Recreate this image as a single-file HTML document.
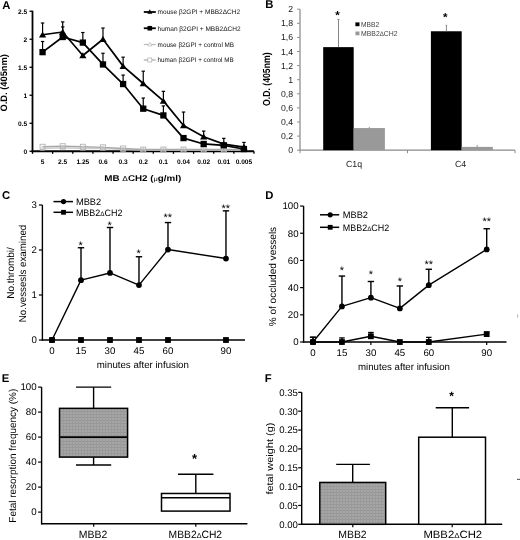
<!DOCTYPE html>
<html><head><meta charset="utf-8"><style>
html,body{margin:0;padding:0;background:#fff;width:520px;height:540px;overflow:hidden}
svg{display:block;font-family:"Liberation Sans",sans-serif;text-rendering:geometricPrecision;filter:grayscale(1)}
</style></head><body>
<svg width="520" height="540" viewBox="0 0 520 540">
<defs><pattern id="hatch" width="3" height="3" patternUnits="userSpaceOnUse"><rect width="3" height="3" fill="#a6a6a6"/><rect width="3" height="1" fill="#979797"/><rect width="1" height="3" fill="#9a9a9a"/></pattern></defs>
<rect width="520" height="540" fill="#fff"/>
<text transform="translate(6.40 4.60)" y="3.96" font-size="11.3" text-anchor="middle" font-weight="bold">A</text>
<line x1="32.50" y1="10.75" x2="32.50" y2="152.15" stroke="#000" stroke-width="1.8" />
<line x1="31.60" y1="151.25" x2="254.00" y2="151.25" stroke="#000" stroke-width="1.8" />
<line x1="29.50" y1="151.25" x2="32.50" y2="151.25" stroke="#000" stroke-width="1.3" />
<text transform="translate(27.20 151.25)" y="2.31" font-size="6.6" text-anchor="end" font-weight="bold">0</text>
<line x1="29.50" y1="123.25" x2="32.50" y2="123.25" stroke="#000" stroke-width="1.3" />
<text transform="translate(27.20 123.25)" y="2.31" font-size="6.6" text-anchor="end" font-weight="bold">0.5</text>
<line x1="29.50" y1="95.25" x2="32.50" y2="95.25" stroke="#000" stroke-width="1.3" />
<text transform="translate(27.20 95.25)" y="2.31" font-size="6.6" text-anchor="end" font-weight="bold">1</text>
<line x1="29.50" y1="67.25" x2="32.50" y2="67.25" stroke="#000" stroke-width="1.3" />
<text transform="translate(27.20 67.25)" y="2.31" font-size="6.6" text-anchor="end" font-weight="bold">1.5</text>
<line x1="29.50" y1="39.25" x2="32.50" y2="39.25" stroke="#000" stroke-width="1.3" />
<text transform="translate(27.20 39.25)" y="2.31" font-size="6.6" text-anchor="end" font-weight="bold">2</text>
<line x1="29.50" y1="11.25" x2="32.50" y2="11.25" stroke="#000" stroke-width="1.3" />
<text transform="translate(27.20 11.25)" y="2.31" font-size="6.6" text-anchor="end" font-weight="bold">2.5</text>
<line x1="32.50" y1="151.25" x2="32.50" y2="153.85" stroke="#000" stroke-width="1.3" />
<line x1="52.64" y1="151.25" x2="52.64" y2="153.85" stroke="#000" stroke-width="1.3" />
<line x1="72.77" y1="151.25" x2="72.77" y2="153.85" stroke="#000" stroke-width="1.3" />
<line x1="92.91" y1="151.25" x2="92.91" y2="153.85" stroke="#000" stroke-width="1.3" />
<line x1="113.05" y1="151.25" x2="113.05" y2="153.85" stroke="#000" stroke-width="1.3" />
<line x1="133.18" y1="151.25" x2="133.18" y2="153.85" stroke="#000" stroke-width="1.3" />
<line x1="153.32" y1="151.25" x2="153.32" y2="153.85" stroke="#000" stroke-width="1.3" />
<line x1="173.45" y1="151.25" x2="173.45" y2="153.85" stroke="#000" stroke-width="1.3" />
<line x1="193.59" y1="151.25" x2="193.59" y2="153.85" stroke="#000" stroke-width="1.3" />
<line x1="213.73" y1="151.25" x2="213.73" y2="153.85" stroke="#000" stroke-width="1.3" />
<line x1="233.86" y1="151.25" x2="233.86" y2="153.85" stroke="#000" stroke-width="1.3" />
<line x1="254.00" y1="151.25" x2="254.00" y2="153.85" stroke="#000" stroke-width="1.3" />
<text transform="translate(42.57 162.00)" y="2.31" font-size="6.6" text-anchor="middle" font-weight="bold">5</text>
<text transform="translate(62.70 162.00)" y="2.31" font-size="6.6" text-anchor="middle" font-weight="bold">2.5</text>
<text transform="translate(82.84 162.00)" y="2.31" font-size="6.6" text-anchor="middle" font-weight="bold">1.25</text>
<text transform="translate(102.98 162.00)" y="2.31" font-size="6.6" text-anchor="middle" font-weight="bold">0.6</text>
<text transform="translate(123.11 162.00)" y="2.31" font-size="6.6" text-anchor="middle" font-weight="bold">0.3</text>
<text transform="translate(143.25 162.00)" y="2.31" font-size="6.6" text-anchor="middle" font-weight="bold">0.2</text>
<text transform="translate(163.39 162.00)" y="2.31" font-size="6.6" text-anchor="middle" font-weight="bold">0.1</text>
<text transform="translate(183.52 162.00)" y="2.31" font-size="6.6" text-anchor="middle" font-weight="bold">0.04</text>
<text transform="translate(203.66 162.00)" y="2.31" font-size="6.6" text-anchor="middle" font-weight="bold">0.02</text>
<text transform="translate(223.80 162.00)" y="2.31" font-size="6.6" text-anchor="middle" font-weight="bold">0.01</text>
<text transform="translate(243.93 162.00)" y="2.31" font-size="6.6" text-anchor="middle" font-weight="bold">0.005</text>
<text transform="translate(142.80 177.60)" y="2.94" font-size="8.4" text-anchor="middle" font-weight="bold" textLength="77" lengthAdjust="spacingAndGlyphs">MB <tspan font-size="85%" font-weight="normal">&#916;</tspan>CH2 (<tspan font-size="75%" font-weight="normal">&#956;</tspan>g/ml)</text>
<text transform="translate(4.10 82.80) rotate(-90)" y="3.29" font-size="9.4" text-anchor="middle" font-weight="bold" textLength="57.5" lengthAdjust="spacingAndGlyphs">O.D. (405nm)</text>
<polyline points="42.57,148.45 62.70,147.89 82.84,148.45 102.98,148.45 123.11,149.57 143.25,150.13 163.39,150.13 183.52,150.13 203.66,150.13 223.80,150.13 243.93,150.13" fill="none" stroke="#cfcfcf" stroke-width="1.4" stroke-linejoin="round"/>
<polyline points="42.57,146.77 62.70,146.21 82.84,146.77 102.98,147.33 123.11,148.45 143.25,149.57 163.39,149.57 183.52,149.57 203.66,149.57 223.80,149.57 243.93,149.57" fill="none" stroke="#a8a8a8" stroke-width="1.4" stroke-linejoin="round"/>
<polygon points="42.57,145.86 44.97,150.18 40.17,150.18" fill="none" stroke="#c8c8c8" stroke-width="0.8"/>
<polygon points="62.70,145.30 65.10,149.62 60.30,149.62" fill="none" stroke="#c8c8c8" stroke-width="0.8"/>
<polygon points="82.84,145.86 85.24,150.18 80.44,150.18" fill="none" stroke="#c8c8c8" stroke-width="0.8"/>
<polygon points="102.98,145.86 105.38,150.18 100.58,150.18" fill="none" stroke="#c8c8c8" stroke-width="0.8"/>
<polygon points="123.11,146.98 125.51,151.30 120.71,151.30" fill="none" stroke="#c8c8c8" stroke-width="0.8"/>
<polygon points="143.25,147.54 145.65,151.86 140.85,151.86" fill="none" stroke="#c8c8c8" stroke-width="0.8"/>
<polygon points="163.39,147.54 165.79,151.86 160.99,151.86" fill="none" stroke="#c8c8c8" stroke-width="0.8"/>
<polygon points="183.52,147.54 185.92,151.86 181.12,151.86" fill="none" stroke="#c8c8c8" stroke-width="0.8"/>
<polygon points="203.66,147.54 206.06,151.86 201.26,151.86" fill="none" stroke="#c8c8c8" stroke-width="0.8"/>
<polygon points="223.80,147.54 226.20,151.86 221.40,151.86" fill="none" stroke="#c8c8c8" stroke-width="0.8"/>
<polygon points="243.93,147.54 246.33,151.86 241.53,151.86" fill="none" stroke="#c8c8c8" stroke-width="0.8"/>
<rect x="40.07" y="144.27" width="5.00" height="5.00" fill="none" stroke="#b4b4b4" stroke-width="0.9"/>
<rect x="60.20" y="143.71" width="5.00" height="5.00" fill="none" stroke="#b4b4b4" stroke-width="0.9"/>
<rect x="80.34" y="144.27" width="5.00" height="5.00" fill="none" stroke="#b4b4b4" stroke-width="0.9"/>
<rect x="100.48" y="144.83" width="5.00" height="5.00" fill="none" stroke="#b4b4b4" stroke-width="0.9"/>
<rect x="120.61" y="145.95" width="5.00" height="5.00" fill="none" stroke="#b4b4b4" stroke-width="0.9"/>
<rect x="140.75" y="147.07" width="5.00" height="5.00" fill="none" stroke="#b4b4b4" stroke-width="0.9"/>
<rect x="160.89" y="147.07" width="5.00" height="5.00" fill="none" stroke="#b4b4b4" stroke-width="0.9"/>
<rect x="181.02" y="147.07" width="5.00" height="5.00" fill="none" stroke="#b4b4b4" stroke-width="0.9"/>
<rect x="201.16" y="147.07" width="5.00" height="5.00" fill="none" stroke="#b4b4b4" stroke-width="0.9"/>
<rect x="221.30" y="147.07" width="5.00" height="5.00" fill="none" stroke="#b4b4b4" stroke-width="0.9"/>
<rect x="241.43" y="147.07" width="5.00" height="5.00" fill="none" stroke="#b4b4b4" stroke-width="0.9"/>
<line x1="42.57" y1="34.77" x2="42.57" y2="23.01" stroke="#000" stroke-width="1.2" />
<line x1="40.87" y1="23.01" x2="44.27" y2="23.01" stroke="#000" stroke-width="1.2" />
<line x1="42.57" y1="52.13" x2="42.57" y2="41.49" stroke="#000" stroke-width="1.2" />
<line x1="40.87" y1="41.49" x2="44.27" y2="41.49" stroke="#000" stroke-width="1.2" />
<line x1="62.70" y1="31.97" x2="62.70" y2="21.89" stroke="#000" stroke-width="1.2" />
<line x1="61.00" y1="21.89" x2="64.40" y2="21.89" stroke="#000" stroke-width="1.2" />
<line x1="62.70" y1="37.01" x2="62.70" y2="26.93" stroke="#000" stroke-width="1.2" />
<line x1="61.00" y1="26.93" x2="64.40" y2="26.93" stroke="#000" stroke-width="1.2" />
<line x1="82.84" y1="42.61" x2="82.84" y2="32.53" stroke="#000" stroke-width="1.2" />
<line x1="81.14" y1="32.53" x2="84.54" y2="32.53" stroke="#000" stroke-width="1.2" />
<line x1="102.98" y1="39.25" x2="102.98" y2="28.05" stroke="#000" stroke-width="1.2" />
<line x1="101.28" y1="28.05" x2="104.68" y2="28.05" stroke="#000" stroke-width="1.2" />
<line x1="102.98" y1="64.45" x2="102.98" y2="53.25" stroke="#000" stroke-width="1.2" />
<line x1="101.28" y1="53.25" x2="104.68" y2="53.25" stroke="#000" stroke-width="1.2" />
<line x1="123.11" y1="66.13" x2="123.11" y2="57.17" stroke="#000" stroke-width="1.2" />
<line x1="121.41" y1="57.17" x2="124.81" y2="57.17" stroke="#000" stroke-width="1.2" />
<line x1="123.11" y1="84.05" x2="123.11" y2="75.09" stroke="#000" stroke-width="1.2" />
<line x1="121.41" y1="75.09" x2="124.81" y2="75.09" stroke="#000" stroke-width="1.2" />
<line x1="143.25" y1="83.49" x2="143.25" y2="71.17" stroke="#000" stroke-width="1.2" />
<line x1="141.55" y1="71.17" x2="144.95" y2="71.17" stroke="#000" stroke-width="1.2" />
<line x1="143.25" y1="108.69" x2="143.25" y2="98.05" stroke="#000" stroke-width="1.2" />
<line x1="141.55" y1="98.05" x2="144.95" y2="98.05" stroke="#000" stroke-width="1.2" />
<line x1="163.39" y1="100.85" x2="163.39" y2="91.33" stroke="#000" stroke-width="1.2" />
<line x1="161.69" y1="91.33" x2="165.09" y2="91.33" stroke="#000" stroke-width="1.2" />
<line x1="163.39" y1="115.41" x2="163.39" y2="105.89" stroke="#000" stroke-width="1.2" />
<line x1="161.69" y1="105.89" x2="165.09" y2="105.89" stroke="#000" stroke-width="1.2" />
<line x1="183.52" y1="125.49" x2="183.52" y2="112.05" stroke="#000" stroke-width="1.2" />
<line x1="181.82" y1="112.05" x2="185.22" y2="112.05" stroke="#000" stroke-width="1.2" />
<line x1="203.66" y1="136.69" x2="203.66" y2="131.09" stroke="#000" stroke-width="1.2" />
<line x1="201.96" y1="131.09" x2="205.36" y2="131.09" stroke="#000" stroke-width="1.2" />
<line x1="223.80" y1="144.08" x2="223.80" y2="138.37" stroke="#000" stroke-width="1.2" />
<line x1="222.10" y1="138.37" x2="225.50" y2="138.37" stroke="#000" stroke-width="1.2" />
<line x1="243.93" y1="147.05" x2="243.93" y2="142.40" stroke="#000" stroke-width="1.2" />
<line x1="242.23" y1="142.40" x2="245.63" y2="142.40" stroke="#000" stroke-width="1.2" />
<polyline points="42.57,34.77 62.70,31.97 82.84,55.49 102.98,39.25 123.11,66.13 143.25,83.49 163.39,100.85 183.52,125.49 203.66,136.69 223.80,144.08 243.93,147.05" fill="none" stroke="#000" stroke-width="1.7" stroke-linejoin="round"/>
<polyline points="42.57,52.13 62.70,37.01 82.84,42.61 102.98,64.45 123.11,84.05 143.25,108.69 163.39,115.41 183.52,138.09 203.66,143.97 223.80,145.31 243.93,149.01" fill="none" stroke="#000" stroke-width="1.7" stroke-linejoin="round"/>
<polygon points="42.57,31.57 46.17,37.57 38.97,37.57" fill="#000" stroke="none" stroke-width="1"/>
<polygon points="62.70,28.77 66.30,34.77 59.10,34.77" fill="#000" stroke="none" stroke-width="1"/>
<polygon points="82.84,52.29 86.44,58.29 79.24,58.29" fill="#000" stroke="none" stroke-width="1"/>
<polygon points="102.98,36.05 106.58,42.05 99.38,42.05" fill="#000" stroke="none" stroke-width="1"/>
<polygon points="123.11,62.93 126.71,68.93 119.51,68.93" fill="#000" stroke="none" stroke-width="1"/>
<polygon points="143.25,80.29 146.85,86.29 139.65,86.29" fill="#000" stroke="none" stroke-width="1"/>
<polygon points="163.39,97.65 166.99,103.65 159.79,103.65" fill="#000" stroke="none" stroke-width="1"/>
<polygon points="183.52,122.29 187.12,128.29 179.92,128.29" fill="#000" stroke="none" stroke-width="1"/>
<polygon points="203.66,133.49 207.26,139.49 200.06,139.49" fill="#000" stroke="none" stroke-width="1"/>
<polygon points="223.80,140.88 227.40,146.88 220.20,146.88" fill="#000" stroke="none" stroke-width="1"/>
<polygon points="243.93,143.85 247.53,149.85 240.33,149.85" fill="#000" stroke="none" stroke-width="1"/>
<rect x="39.42" y="48.98" width="6.30" height="6.30" fill="#000" stroke="none" stroke-width="1"/>
<rect x="59.55" y="33.86" width="6.30" height="6.30" fill="#000" stroke="none" stroke-width="1"/>
<rect x="79.69" y="39.46" width="6.30" height="6.30" fill="#000" stroke="none" stroke-width="1"/>
<rect x="99.83" y="61.30" width="6.30" height="6.30" fill="#000" stroke="none" stroke-width="1"/>
<rect x="119.96" y="80.90" width="6.30" height="6.30" fill="#000" stroke="none" stroke-width="1"/>
<rect x="140.10" y="105.54" width="6.30" height="6.30" fill="#000" stroke="none" stroke-width="1"/>
<rect x="160.24" y="112.26" width="6.30" height="6.30" fill="#000" stroke="none" stroke-width="1"/>
<rect x="180.37" y="134.94" width="6.30" height="6.30" fill="#000" stroke="none" stroke-width="1"/>
<rect x="200.51" y="140.82" width="6.30" height="6.30" fill="#000" stroke="none" stroke-width="1"/>
<rect x="220.65" y="142.16" width="6.30" height="6.30" fill="#000" stroke="none" stroke-width="1"/>
<rect x="240.78" y="145.86" width="6.30" height="6.30" fill="#000" stroke="none" stroke-width="1"/>
<line x1="143.80" y1="12.00" x2="155.80" y2="12.00" stroke="#000" stroke-width="1.8" />
<polygon points="149.80,9.36 152.30,13.76 147.30,13.76" fill="#000" stroke="none" stroke-width="1"/>
<text transform="translate(157.60 12.00)" y="2.31" font-size="6.6" text-anchor="start" fill="#111" textLength="82.5" lengthAdjust="spacingAndGlyphs">mouse &#946;2GPI + MBB2&#916;CH2</text>
<line x1="143.80" y1="28.25" x2="155.80" y2="28.25" stroke="#000" stroke-width="1.8" />
<rect x="147.50" y="25.95" width="4.60" height="4.60" fill="#000" stroke="none" stroke-width="1"/>
<text transform="translate(157.60 28.25)" y="2.31" font-size="6.6" text-anchor="start" fill="#111" textLength="83" lengthAdjust="spacingAndGlyphs">human &#946;2GPI + MBB2&#916;CH2</text>
<line x1="143.80" y1="44.50" x2="155.80" y2="44.50" stroke="#bbb" stroke-width="1.2" />
<polygon points="149.80,42.34 151.80,45.94 147.80,45.94" fill="#fff" stroke="#bbb" stroke-width="0.7"/>
<text transform="translate(157.60 44.50)" y="2.31" font-size="6.6" text-anchor="start" fill="#111" textLength="76.5" lengthAdjust="spacingAndGlyphs">mouse &#946;2GPI + control MB</text>
<line x1="143.80" y1="60.00" x2="155.80" y2="60.00" stroke="#aaa" stroke-width="1.2" />
<rect x="147.80" y="58.00" width="4.00" height="4.00" fill="#fff" stroke="#aaa" stroke-width="0.7"/>
<text transform="translate(157.60 60.00)" y="2.31" font-size="6.6" text-anchor="start" fill="#111" textLength="76" lengthAdjust="spacingAndGlyphs">human &#946;2GPI + control MB</text>
<text transform="translate(269.30 4.30)" y="3.96" font-size="11.3" text-anchor="middle" font-weight="bold">B</text>
<line x1="300.00" y1="9.20" x2="300.00" y2="150.20" stroke="#909090" stroke-width="1.3" />
<line x1="300.00" y1="150.20" x2="515.00" y2="150.20" stroke="#8a8a8a" stroke-width="1.2" />
<line x1="297.00" y1="150.20" x2="300.00" y2="150.20" stroke="#909090" stroke-width="1.0" />
<text transform="translate(293.00 150.20)" y="3.04" font-size="8.7" text-anchor="end" fill="#1a1a1a">0</text>
<line x1="297.00" y1="136.10" x2="300.00" y2="136.10" stroke="#909090" stroke-width="1.0" />
<text transform="translate(293.00 136.10)" y="3.04" font-size="8.7" text-anchor="end" fill="#1a1a1a">0,2</text>
<line x1="297.00" y1="122.00" x2="300.00" y2="122.00" stroke="#909090" stroke-width="1.0" />
<text transform="translate(293.00 122.00)" y="3.04" font-size="8.7" text-anchor="end" fill="#1a1a1a">0,4</text>
<line x1="297.00" y1="107.90" x2="300.00" y2="107.90" stroke="#909090" stroke-width="1.0" />
<text transform="translate(293.00 107.90)" y="3.04" font-size="8.7" text-anchor="end" fill="#1a1a1a">0,6</text>
<line x1="297.00" y1="93.80" x2="300.00" y2="93.80" stroke="#909090" stroke-width="1.0" />
<text transform="translate(293.00 93.80)" y="3.04" font-size="8.7" text-anchor="end" fill="#1a1a1a">0,8</text>
<line x1="297.00" y1="79.70" x2="300.00" y2="79.70" stroke="#909090" stroke-width="1.0" />
<text transform="translate(293.00 79.70)" y="3.04" font-size="8.7" text-anchor="end" fill="#1a1a1a">1</text>
<line x1="297.00" y1="65.60" x2="300.00" y2="65.60" stroke="#909090" stroke-width="1.0" />
<text transform="translate(293.00 65.60)" y="3.04" font-size="8.7" text-anchor="end" fill="#1a1a1a">1,2</text>
<line x1="297.00" y1="51.50" x2="300.00" y2="51.50" stroke="#909090" stroke-width="1.0" />
<text transform="translate(293.00 51.50)" y="3.04" font-size="8.7" text-anchor="end" fill="#1a1a1a">1,4</text>
<line x1="297.00" y1="37.40" x2="300.00" y2="37.40" stroke="#909090" stroke-width="1.0" />
<text transform="translate(293.00 37.40)" y="3.04" font-size="8.7" text-anchor="end" fill="#1a1a1a">1,6</text>
<line x1="297.00" y1="23.30" x2="300.00" y2="23.30" stroke="#909090" stroke-width="1.0" />
<text transform="translate(293.00 23.30)" y="3.04" font-size="8.7" text-anchor="end" fill="#1a1a1a">1,8</text>
<line x1="297.00" y1="9.20" x2="300.00" y2="9.20" stroke="#909090" stroke-width="1.0" />
<text transform="translate(293.00 9.20)" y="3.04" font-size="8.7" text-anchor="end" fill="#1a1a1a">2</text>
<line x1="300.00" y1="150.20" x2="300.00" y2="153.20" stroke="#8a8a8a" stroke-width="1.0" />
<line x1="407.50" y1="150.20" x2="407.50" y2="153.20" stroke="#8a8a8a" stroke-width="1.0" />
<line x1="515.00" y1="150.20" x2="515.00" y2="153.20" stroke="#8a8a8a" stroke-width="1.0" />
<rect x="323.20" y="47.13" width="30.50" height="103.07" fill="#000" stroke="none" stroke-width="1"/>
<rect x="353.70" y="128.06" width="31.20" height="22.14" fill="#999" stroke="none" stroke-width="1"/>
<rect x="430.90" y="31.27" width="30.80" height="118.93" fill="#000" stroke="none" stroke-width="1"/>
<rect x="461.60" y="146.89" width="31.20" height="3.31" fill="#999" stroke="none" stroke-width="1"/>
<line x1="338.50" y1="47.13" x2="338.50" y2="19.42" stroke="#777" stroke-width="0.9" />
<line x1="337.50" y1="19.42" x2="339.50" y2="19.42" stroke="#777" stroke-width="0.9" />
<line x1="446.40" y1="31.27" x2="446.40" y2="25.20" stroke="#8a8a8a" stroke-width="1.0" />
<line x1="445.60" y1="25.20" x2="447.20" y2="25.20" stroke="#8a8a8a" stroke-width="0.8" />
<line x1="369.30" y1="128.06" x2="369.30" y2="126.93" stroke="#777" stroke-width="0.8" />
<line x1="477.20" y1="146.89" x2="477.20" y2="144.91" stroke="#777" stroke-width="0.8" />
<text transform="translate(337.60 13.30)" y="5.89" font-size="11.5" text-anchor="middle" font-weight="bold">*</text>
<text transform="translate(445.20 15.40)" y="5.89" font-size="11.5" text-anchor="middle" font-weight="bold">*</text>
<rect x="355.40" y="22.40" width="4.10" height="3.80" fill="#000" stroke="none" stroke-width="1"/>
<text transform="translate(361.00 24.20)" y="2.52" font-size="7.2" text-anchor="start" fill="#444" textLength="18.2" lengthAdjust="spacingAndGlyphs">MBB2</text>
<rect x="355.40" y="31.50" width="4.10" height="3.80" fill="#999" stroke="none" stroke-width="1"/>
<text transform="translate(361.00 33.40)" y="2.52" font-size="7.2" text-anchor="start" fill="#444" textLength="36.6" lengthAdjust="spacingAndGlyphs">MBB2<tspan font-size="90%" font-weight="normal">&#916;</tspan>CH2</text>
<text transform="translate(354.00 163.80)" y="3.08" font-size="8.8" text-anchor="middle" fill="#1a1a1a">C1q</text>
<text transform="translate(460.50 164.00)" y="3.08" font-size="8.8" text-anchor="middle" fill="#1a1a1a">C4</text>
<text transform="translate(266.70 79.20) rotate(-90)" y="3.57" font-size="10.2" text-anchor="middle" font-weight="bold" textLength="53.5" lengthAdjust="spacingAndGlyphs">O.D. (405nm)</text>
<text transform="translate(6.20 195.40)" y="3.96" font-size="11.3" text-anchor="middle" font-weight="bold">C</text>
<line x1="42.40" y1="205.00" x2="42.40" y2="340.60" stroke="#000" stroke-width="1.4" />
<line x1="41.80" y1="340.00" x2="245.00" y2="340.00" stroke="#000" stroke-width="1.4" />
<line x1="38.90" y1="340.00" x2="42.40" y2="340.00" stroke="#000" stroke-width="1.2" />
<text transform="translate(36.80 340.00)" y="3.39" font-size="9.7" text-anchor="end">0</text>
<line x1="38.90" y1="295.00" x2="42.40" y2="295.00" stroke="#000" stroke-width="1.2" />
<text transform="translate(36.80 295.00)" y="3.39" font-size="9.7" text-anchor="end">1</text>
<line x1="38.90" y1="250.00" x2="42.40" y2="250.00" stroke="#000" stroke-width="1.2" />
<text transform="translate(36.80 250.00)" y="3.39" font-size="9.7" text-anchor="end">2</text>
<line x1="38.90" y1="205.00" x2="42.40" y2="205.00" stroke="#000" stroke-width="1.2" />
<text transform="translate(36.80 205.00)" y="3.39" font-size="9.7" text-anchor="end">3</text>
<line x1="52.00" y1="340.00" x2="52.00" y2="343.00" stroke="#000" stroke-width="1.2" />
<text transform="translate(52.00 350.70)" y="3.39" font-size="9.7" text-anchor="middle">0</text>
<line x1="81.00" y1="340.00" x2="81.00" y2="343.00" stroke="#000" stroke-width="1.2" />
<text transform="translate(81.00 350.70)" y="3.39" font-size="9.7" text-anchor="middle">15</text>
<line x1="109.99" y1="340.00" x2="109.99" y2="343.00" stroke="#000" stroke-width="1.2" />
<text transform="translate(109.99 350.70)" y="3.39" font-size="9.7" text-anchor="middle">30</text>
<line x1="138.99" y1="340.00" x2="138.99" y2="343.00" stroke="#000" stroke-width="1.2" />
<text transform="translate(138.99 350.70)" y="3.39" font-size="9.7" text-anchor="middle">45</text>
<line x1="167.98" y1="340.00" x2="167.98" y2="343.00" stroke="#000" stroke-width="1.2" />
<text transform="translate(167.98 350.70)" y="3.39" font-size="9.7" text-anchor="middle">60</text>
<line x1="225.97" y1="340.00" x2="225.97" y2="343.00" stroke="#000" stroke-width="1.2" />
<text transform="translate(225.97 350.70)" y="3.39" font-size="9.7" text-anchor="middle">90</text>
<text transform="translate(142.80 364.40)" y="3.43" font-size="9.8" text-anchor="middle" textLength="92" lengthAdjust="spacingAndGlyphs">minutes after infusion</text>
<text transform="translate(10.60 273.00) rotate(-90)" y="3.50" font-size="10" text-anchor="middle">No.thrombi/</text>
<text transform="translate(22.80 273.50) rotate(-90)" y="3.50" font-size="10" text-anchor="middle" textLength="97.5" lengthAdjust="spacingAndGlyphs">No.vessesls examined</text>
<line x1="81.00" y1="280.15" x2="81.00" y2="247.75" stroke="#000" stroke-width="1.4" />
<line x1="77.80" y1="247.75" x2="84.20" y2="247.75" stroke="#000" stroke-width="1.4" />
<line x1="109.99" y1="272.95" x2="109.99" y2="227.50" stroke="#000" stroke-width="1.4" />
<line x1="106.79" y1="227.50" x2="113.19" y2="227.50" stroke="#000" stroke-width="1.4" />
<line x1="138.99" y1="285.10" x2="138.99" y2="256.75" stroke="#000" stroke-width="1.4" />
<line x1="135.79" y1="256.75" x2="142.19" y2="256.75" stroke="#000" stroke-width="1.4" />
<line x1="167.98" y1="249.55" x2="167.98" y2="222.55" stroke="#000" stroke-width="1.4" />
<line x1="164.78" y1="222.55" x2="171.18" y2="222.55" stroke="#000" stroke-width="1.4" />
<line x1="225.97" y1="258.55" x2="225.97" y2="210.85" stroke="#000" stroke-width="1.4" />
<line x1="222.77" y1="210.85" x2="229.17" y2="210.85" stroke="#000" stroke-width="1.4" />
<polyline points="52.00,340.00 81.00,280.15 109.99,272.95 138.99,285.10 167.98,249.55 225.97,258.55" fill="none" stroke="#000" stroke-width="1.4" stroke-linejoin="round"/>
<circle cx="52.00" cy="340.00" r="2.9" fill="#000"/>
<circle cx="81.00" cy="280.15" r="2.9" fill="#000"/>
<circle cx="109.99" cy="272.95" r="2.9" fill="#000"/>
<circle cx="138.99" cy="285.10" r="2.9" fill="#000"/>
<circle cx="167.98" cy="249.55" r="2.9" fill="#000"/>
<circle cx="225.97" cy="258.55" r="2.9" fill="#000"/>
<rect x="49.10" y="337.10" width="5.80" height="5.80" fill="#000" stroke="none" stroke-width="1"/>
<rect x="78.09" y="337.10" width="5.80" height="5.80" fill="#000" stroke="none" stroke-width="1"/>
<rect x="107.09" y="337.10" width="5.80" height="5.80" fill="#000" stroke="none" stroke-width="1"/>
<rect x="136.09" y="337.10" width="5.80" height="5.80" fill="#000" stroke="none" stroke-width="1"/>
<rect x="165.08" y="337.10" width="5.80" height="5.80" fill="#000" stroke="none" stroke-width="1"/>
<rect x="223.07" y="337.10" width="5.80" height="5.80" fill="#000" stroke="none" stroke-width="1"/>
<text transform="translate(80.70 243.40)" y="5.63" font-size="11" text-anchor="middle">*</text>
<text transform="translate(109.69 223.50)" y="5.63" font-size="11" text-anchor="middle">*</text>
<text transform="translate(138.69 251.00)" y="5.63" font-size="11" text-anchor="middle">*</text>
<text transform="translate(167.68 214.90)" y="5.63" font-size="11" text-anchor="middle">**</text>
<text transform="translate(225.67 206.20)" y="5.63" font-size="11" text-anchor="middle">**</text>
<line x1="53.50" y1="201.60" x2="73.00" y2="201.60" stroke="#000" stroke-width="1.5" />
<circle cx="63.50" cy="201.60" r="2.6" fill="#000"/>
<text transform="translate(75.90 201.90)" y="3.25" font-size="9.3" text-anchor="start">MBB2</text>
<line x1="53.50" y1="212.30" x2="73.00" y2="212.30" stroke="#000" stroke-width="1.5" />
<rect x="61.10" y="209.90" width="4.80" height="4.80" fill="#000" stroke="none" stroke-width="1"/>
<text transform="translate(75.90 212.60)" y="3.25" font-size="9.3" text-anchor="start" textLength="46.6" lengthAdjust="spacingAndGlyphs">MBB2<tspan font-size="70%" font-weight="normal">&#916;</tspan>CH2</text>
<text transform="translate(269.30 195.40)" y="3.96" font-size="11.3" text-anchor="middle" font-weight="bold">D</text>
<line x1="303.60" y1="206.05" x2="303.60" y2="342.60" stroke="#000" stroke-width="1.4" />
<line x1="303.00" y1="342.00" x2="506.50" y2="342.00" stroke="#000" stroke-width="1.4" />
<line x1="300.10" y1="342.00" x2="303.60" y2="342.00" stroke="#000" stroke-width="1.2" />
<text transform="translate(298.60 342.00)" y="3.39" font-size="9.7" text-anchor="end">0</text>
<line x1="300.10" y1="314.81" x2="303.60" y2="314.81" stroke="#000" stroke-width="1.2" />
<text transform="translate(298.60 314.81)" y="3.39" font-size="9.7" text-anchor="end">20</text>
<line x1="300.10" y1="287.62" x2="303.60" y2="287.62" stroke="#000" stroke-width="1.2" />
<text transform="translate(298.60 287.62)" y="3.39" font-size="9.7" text-anchor="end">40</text>
<line x1="300.10" y1="260.43" x2="303.60" y2="260.43" stroke="#000" stroke-width="1.2" />
<text transform="translate(298.60 260.43)" y="3.39" font-size="9.7" text-anchor="end">60</text>
<line x1="300.10" y1="233.24" x2="303.60" y2="233.24" stroke="#000" stroke-width="1.2" />
<text transform="translate(298.60 233.24)" y="3.39" font-size="9.7" text-anchor="end">80</text>
<line x1="300.10" y1="206.05" x2="303.60" y2="206.05" stroke="#000" stroke-width="1.2" />
<text transform="translate(298.60 206.05)" y="3.39" font-size="9.7" text-anchor="end">100</text>
<line x1="313.00" y1="342.00" x2="313.00" y2="345.00" stroke="#000" stroke-width="1.2" />
<text transform="translate(313.00 353.10)" y="3.39" font-size="9.7" text-anchor="middle">0</text>
<line x1="341.95" y1="342.00" x2="341.95" y2="345.00" stroke="#000" stroke-width="1.2" />
<text transform="translate(341.95 353.10)" y="3.39" font-size="9.7" text-anchor="middle">15</text>
<line x1="370.90" y1="342.00" x2="370.90" y2="345.00" stroke="#000" stroke-width="1.2" />
<text transform="translate(370.90 353.10)" y="3.39" font-size="9.7" text-anchor="middle">30</text>
<line x1="399.85" y1="342.00" x2="399.85" y2="345.00" stroke="#000" stroke-width="1.2" />
<text transform="translate(399.85 353.10)" y="3.39" font-size="9.7" text-anchor="middle">45</text>
<line x1="428.80" y1="342.00" x2="428.80" y2="345.00" stroke="#000" stroke-width="1.2" />
<text transform="translate(428.80 353.10)" y="3.39" font-size="9.7" text-anchor="middle">60</text>
<line x1="486.70" y1="342.00" x2="486.70" y2="345.00" stroke="#000" stroke-width="1.2" />
<text transform="translate(486.70 353.10)" y="3.39" font-size="9.7" text-anchor="middle">90</text>
<text transform="translate(404.00 366.80)" y="3.43" font-size="9.8" text-anchor="middle" textLength="92" lengthAdjust="spacingAndGlyphs">minutes after infusion</text>
<text transform="translate(272.60 276.60) rotate(-90)" y="3.50" font-size="10" text-anchor="middle" textLength="99.5" lengthAdjust="spacingAndGlyphs">% of occluded vessels</text>
<line x1="313.00" y1="342.00" x2="313.00" y2="337.24" stroke="#000" stroke-width="1.4" />
<line x1="309.80" y1="337.24" x2="316.20" y2="337.24" stroke="#000" stroke-width="1.4" />
<line x1="313.00" y1="342.00" x2="313.00" y2="337.24" stroke="#000" stroke-width="1.3" />
<line x1="310.25" y1="337.24" x2="315.75" y2="337.24" stroke="#000" stroke-width="1.3" />
<line x1="341.95" y1="306.38" x2="341.95" y2="276.06" stroke="#000" stroke-width="1.4" />
<line x1="338.75" y1="276.06" x2="345.15" y2="276.06" stroke="#000" stroke-width="1.4" />
<line x1="341.95" y1="342.00" x2="341.95" y2="337.92" stroke="#000" stroke-width="1.3" />
<line x1="339.20" y1="337.92" x2="344.70" y2="337.92" stroke="#000" stroke-width="1.3" />
<line x1="370.90" y1="297.68" x2="370.90" y2="281.50" stroke="#000" stroke-width="1.4" />
<line x1="367.70" y1="281.50" x2="374.10" y2="281.50" stroke="#000" stroke-width="1.4" />
<line x1="370.90" y1="336.29" x2="370.90" y2="332.48" stroke="#000" stroke-width="1.3" />
<line x1="368.15" y1="332.48" x2="373.65" y2="332.48" stroke="#000" stroke-width="1.3" />
<line x1="399.85" y1="308.42" x2="399.85" y2="285.99" stroke="#000" stroke-width="1.4" />
<line x1="396.65" y1="285.99" x2="403.05" y2="285.99" stroke="#000" stroke-width="1.4" />
<line x1="428.80" y1="285.17" x2="428.80" y2="269.27" stroke="#000" stroke-width="1.4" />
<line x1="425.60" y1="269.27" x2="432.00" y2="269.27" stroke="#000" stroke-width="1.4" />
<line x1="428.80" y1="342.00" x2="428.80" y2="337.38" stroke="#000" stroke-width="1.3" />
<line x1="426.05" y1="337.38" x2="431.55" y2="337.38" stroke="#000" stroke-width="1.3" />
<line x1="486.70" y1="249.42" x2="486.70" y2="228.75" stroke="#000" stroke-width="1.4" />
<line x1="483.50" y1="228.75" x2="489.90" y2="228.75" stroke="#000" stroke-width="1.4" />
<line x1="486.70" y1="334.11" x2="486.70" y2="332.21" stroke="#000" stroke-width="1.3" />
<line x1="483.95" y1="332.21" x2="489.45" y2="332.21" stroke="#000" stroke-width="1.3" />
<polyline points="313.00,342.00 341.95,342.00 370.90,336.29 399.85,342.00 428.80,342.00 486.70,334.11" fill="none" stroke="#000" stroke-width="1.4" stroke-linejoin="round"/>
<polyline points="313.00,342.00 341.95,306.38 370.90,297.68 399.85,308.42 428.80,285.17 486.70,249.42" fill="none" stroke="#000" stroke-width="1.4" stroke-linejoin="round"/>
<circle cx="313.00" cy="342.00" r="2.9" fill="#000"/>
<circle cx="341.95" cy="306.38" r="2.9" fill="#000"/>
<circle cx="370.90" cy="297.68" r="2.9" fill="#000"/>
<circle cx="399.85" cy="308.42" r="2.9" fill="#000"/>
<circle cx="428.80" cy="285.17" r="2.9" fill="#000"/>
<circle cx="486.70" cy="249.42" r="2.9" fill="#000"/>
<rect x="310.10" y="339.10" width="5.80" height="5.80" fill="#000" stroke="none" stroke-width="1"/>
<rect x="339.05" y="339.10" width="5.80" height="5.80" fill="#000" stroke="none" stroke-width="1"/>
<rect x="368.00" y="333.39" width="5.80" height="5.80" fill="#000" stroke="none" stroke-width="1"/>
<rect x="396.95" y="339.10" width="5.80" height="5.80" fill="#000" stroke="none" stroke-width="1"/>
<rect x="425.90" y="339.10" width="5.80" height="5.80" fill="#000" stroke="none" stroke-width="1"/>
<rect x="483.80" y="331.21" width="5.80" height="5.80" fill="#000" stroke="none" stroke-width="1"/>
<text transform="translate(341.95 268.80)" y="5.63" font-size="11" text-anchor="middle">*</text>
<text transform="translate(370.90 272.10)" y="5.63" font-size="11" text-anchor="middle">*</text>
<text transform="translate(399.85 279.30)" y="5.63" font-size="11" text-anchor="middle">*</text>
<text transform="translate(428.80 262.30)" y="5.63" font-size="11" text-anchor="middle">**</text>
<text transform="translate(486.70 219.20)" y="5.63" font-size="11" text-anchor="middle">**</text>
<line x1="320.00" y1="214.80" x2="339.20" y2="214.80" stroke="#000" stroke-width="1.5" />
<circle cx="330.20" cy="214.80" r="2.6" fill="#000"/>
<text transform="translate(342.70 215.10)" y="3.25" font-size="9.3" text-anchor="start">MBB2</text>
<line x1="320.00" y1="227.30" x2="339.20" y2="227.30" stroke="#000" stroke-width="1.5" />
<rect x="327.80" y="224.90" width="4.80" height="4.80" fill="#000" stroke="none" stroke-width="1"/>
<text transform="translate(342.70 227.60)" y="3.25" font-size="9.3" text-anchor="start" textLength="46.6" lengthAdjust="spacingAndGlyphs">MBB2<tspan font-size="70%" font-weight="normal">&#916;</tspan>CH2</text>
<text transform="translate(5.50 377.80)" y="3.96" font-size="11.3" text-anchor="middle" font-weight="bold">E</text>
<line x1="41.60" y1="387.10" x2="41.60" y2="524.40" stroke="#000" stroke-width="1.4" />
<line x1="41.00" y1="523.80" x2="247.40" y2="523.80" stroke="#000" stroke-width="1.4" />
<line x1="38.10" y1="512.10" x2="41.60" y2="512.10" stroke="#000" stroke-width="1.2" />
<text transform="translate(36.60 512.10)" y="3.39" font-size="9.7" text-anchor="end">0</text>
<line x1="38.10" y1="487.10" x2="41.60" y2="487.10" stroke="#000" stroke-width="1.2" />
<text transform="translate(36.60 487.10)" y="3.39" font-size="9.7" text-anchor="end">20</text>
<line x1="38.10" y1="462.10" x2="41.60" y2="462.10" stroke="#000" stroke-width="1.2" />
<text transform="translate(36.60 462.10)" y="3.39" font-size="9.7" text-anchor="end">40</text>
<line x1="38.10" y1="437.10" x2="41.60" y2="437.10" stroke="#000" stroke-width="1.2" />
<text transform="translate(36.60 437.10)" y="3.39" font-size="9.7" text-anchor="end">60</text>
<line x1="38.10" y1="412.10" x2="41.60" y2="412.10" stroke="#000" stroke-width="1.2" />
<text transform="translate(36.60 412.10)" y="3.39" font-size="9.7" text-anchor="end">80</text>
<line x1="38.10" y1="387.10" x2="41.60" y2="387.10" stroke="#000" stroke-width="1.2" />
<text transform="translate(36.60 387.10)" y="3.39" font-size="9.7" text-anchor="end">100</text>
<line x1="93.70" y1="523.80" x2="93.70" y2="526.80" stroke="#000" stroke-width="1.2" />
<line x1="195.80" y1="523.80" x2="195.80" y2="526.80" stroke="#000" stroke-width="1.2" />
<text transform="translate(93.05 534.60)" y="3.71" font-size="10.6" text-anchor="middle" textLength="28.5" lengthAdjust="spacingAndGlyphs">MBB2</text>
<text transform="translate(195.35 534.60)" y="3.71" font-size="10.6" text-anchor="middle" textLength="53.5" lengthAdjust="spacingAndGlyphs">MBB2<tspan font-size="70%" font-weight="normal">&#916;</tspan>CH2</text>
<text transform="translate(12.30 455.70) rotate(-90)" y="3.50" font-size="10" text-anchor="middle" textLength="134" lengthAdjust="spacingAndGlyphs">Fetal resorption frequency (%)</text>
<line x1="93.60" y1="387.10" x2="93.60" y2="408.35" stroke="#000" stroke-width="1.4" />
<line x1="76.00" y1="387.10" x2="111.20" y2="387.10" stroke="#000" stroke-width="1.4" />
<line x1="93.60" y1="457.10" x2="93.60" y2="464.98" stroke="#000" stroke-width="1.4" />
<line x1="76.00" y1="464.98" x2="111.20" y2="464.98" stroke="#000" stroke-width="1.4" />
<rect x="59.50" y="408.35" width="68.10" height="48.75" fill="url(#hatch)" stroke="#000" stroke-width="1.5"/>
<line x1="59.50" y1="437.10" x2="127.60" y2="437.10" stroke="#000" stroke-width="1.7" />
<line x1="195.80" y1="474.23" x2="195.80" y2="493.48" stroke="#000" stroke-width="1.4" />
<line x1="178.00" y1="474.23" x2="213.40" y2="474.23" stroke="#000" stroke-width="1.4" />
<rect x="161.50" y="493.48" width="68.50" height="17.62" fill="#fff" stroke="#000" stroke-width="1.5"/>
<line x1="161.50" y1="497.73" x2="230.00" y2="497.73" stroke="#000" stroke-width="1.7" />
<text transform="translate(194.60 456.30)" y="6.66" font-size="13" text-anchor="middle" font-weight="bold">*</text>
<text transform="translate(268.20 378.00)" y="3.96" font-size="11.3" text-anchor="middle" font-weight="bold">F</text>
<line x1="301.70" y1="392.35" x2="301.70" y2="524.90" stroke="#000" stroke-width="1.4" />
<line x1="301.10" y1="524.30" x2="502.20" y2="524.30" stroke="#000" stroke-width="1.4" />
<line x1="298.20" y1="524.30" x2="301.70" y2="524.30" stroke="#000" stroke-width="1.2" />
<text transform="translate(297.90 524.30)" y="3.36" font-size="9.6" text-anchor="end">0.00</text>
<line x1="298.20" y1="505.45" x2="301.70" y2="505.45" stroke="#000" stroke-width="1.2" />
<text transform="translate(297.90 505.45)" y="3.36" font-size="9.6" text-anchor="end">0.05</text>
<line x1="298.20" y1="486.60" x2="301.70" y2="486.60" stroke="#000" stroke-width="1.2" />
<text transform="translate(297.90 486.60)" y="3.36" font-size="9.6" text-anchor="end">0.10</text>
<line x1="298.20" y1="467.75" x2="301.70" y2="467.75" stroke="#000" stroke-width="1.2" />
<text transform="translate(297.90 467.75)" y="3.36" font-size="9.6" text-anchor="end">0.15</text>
<line x1="298.20" y1="448.90" x2="301.70" y2="448.90" stroke="#000" stroke-width="1.2" />
<text transform="translate(297.90 448.90)" y="3.36" font-size="9.6" text-anchor="end">0.20</text>
<line x1="298.20" y1="430.05" x2="301.70" y2="430.05" stroke="#000" stroke-width="1.2" />
<text transform="translate(297.90 430.05)" y="3.36" font-size="9.6" text-anchor="end">0.25</text>
<line x1="298.20" y1="411.20" x2="301.70" y2="411.20" stroke="#000" stroke-width="1.2" />
<text transform="translate(297.90 411.20)" y="3.36" font-size="9.6" text-anchor="end">0.30</text>
<line x1="298.20" y1="392.35" x2="301.70" y2="392.35" stroke="#000" stroke-width="1.2" />
<text transform="translate(297.90 392.35)" y="3.36" font-size="9.6" text-anchor="end">0.35</text>
<line x1="352.80" y1="524.30" x2="352.80" y2="527.30" stroke="#000" stroke-width="1.2" />
<line x1="452.20" y1="524.30" x2="452.20" y2="527.30" stroke="#000" stroke-width="1.2" />
<text transform="translate(352.45 534.60)" y="3.71" font-size="10.6" text-anchor="middle" textLength="28.5" lengthAdjust="spacingAndGlyphs">MBB2</text>
<text transform="translate(452.75 534.60)" y="3.71" font-size="10.6" text-anchor="middle" textLength="58.7" lengthAdjust="spacingAndGlyphs">MBB2<tspan font-size="70%" font-weight="normal">&#916;</tspan>CH2</text>
<text transform="translate(269.70 458.60) rotate(-90)" y="3.36" font-size="9.6" text-anchor="middle" textLength="72" lengthAdjust="spacingAndGlyphs">fetal weight (g)</text>
<line x1="352.70" y1="482.45" x2="352.70" y2="464.36" stroke="#000" stroke-width="1.4" />
<line x1="336.20" y1="464.36" x2="369.90" y2="464.36" stroke="#000" stroke-width="1.4" />
<rect x="319.80" y="482.45" width="65.90" height="41.85" fill="url(#hatch)" stroke="#000" stroke-width="1.5"/>
<line x1="452.30" y1="437.21" x2="452.30" y2="407.81" stroke="#000" stroke-width="1.4" />
<line x1="435.70" y1="407.81" x2="469.10" y2="407.81" stroke="#000" stroke-width="1.4" />
<rect x="418.70" y="437.21" width="66.80" height="87.09" fill="#fff" stroke="#000" stroke-width="1.5"/>
<text transform="translate(451.60 393.50)" y="6.14" font-size="12" text-anchor="middle" font-weight="bold">*</text>
<line x1="517.00" y1="479.40" x2="520.00" y2="479.40" stroke="#666" stroke-width="1.2" />
<line x1="517.60" y1="314.30" x2="517.60" y2="317.60" stroke="#aaa" stroke-width="0.9" />
</svg></body></html>
